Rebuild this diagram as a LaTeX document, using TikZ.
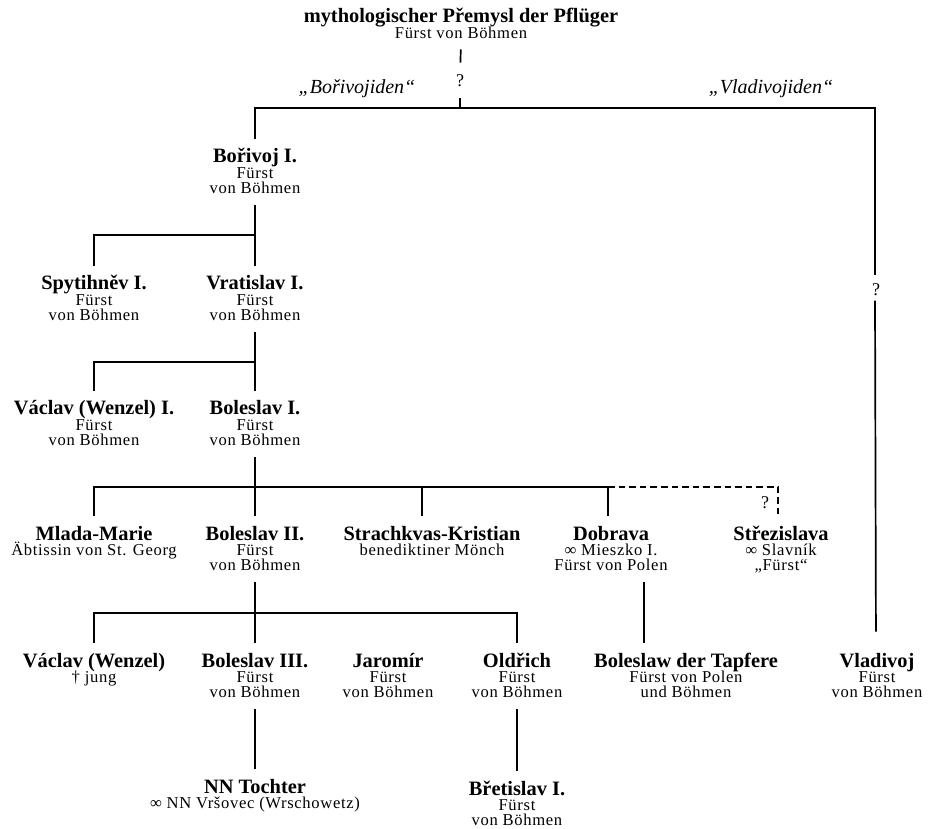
\documentclass[tikz,border=0pt]{standalone}
\usepackage{fontspec}
\setmainfont{Liberation Serif}
\newfontfamily\sperr{Liberation Serif}[LetterSpace=4]
\newcommand{\ahnen}[2]{\vtop{\lineskiplimit=-20pt\let\\\cr\halign{\hfil##\strut\hfil\cr\rule{0pt}{7.5pt}{\normalfont\bfseries\fontsize{10.2}{7.7}\selectfont #1}\cr #2\cr}}}
\begin{document}
\begin{tikzpicture}[x=0.5pt,y=-0.5pt,
		pers/.style={anchor=base,inner sep=0pt,font=\sperr\fontsize{8.3}{7.7}\selectfont},
		frage/.style={anchor=base,inner sep=0pt,font=\fontsize{9}{7.7}\selectfont},
		zweig/.style={anchor=base,inner sep=0pt,font=\fontsize{10}{10}\selectfont\itshape},
		link/.style={line width=0.85pt},
		ab/.style={shorten <=3pt},
		an/.style={shorten >=4.5pt}]
	\useasboundingbox (0,0) rectangle (928,829);
	\node [pers] (prem) at (461,23) {\ahnen{mythologischer Přemysl der Pflüger}{Fürst von Böhmen}};
	\node [frage] (q1) at (460,87) {?};
	\node [zweig] (bori) at (357,94) {„Bořivojiden“};
	\node [zweig] (vladi) at (771,94) {„Vladivojiden“};
	\node [pers] (bor) at (255,163) {\ahnen{Bořivoj I.}{Fürst\\von Böhmen}};
	\node [frage] (q2) at (876,296) {?};
	\node [pers] (spy) at (94,290) {\ahnen{Spytihněv I.}{Fürst\\von Böhmen}};
	\node [pers] (vra) at (255,290) {\ahnen{Vratislav I.}{Fürst\\von Böhmen}};
	\node [pers] (vac1) at (94,415) {\ahnen{Václav (Wenzel) I.}{Fürst\\von Böhmen}};
	\node [pers] (bol1) at (255,415) {\ahnen{Boleslav I.}{Fürst\\von Böhmen}};
	\node [pers] (mla) at (94,540) {\ahnen{Mlada-Marie}{Äbtissin von St. Georg}};
	\node [pers] (bol2) at (255,540) {\ahnen{Boleslav II.}{Fürst\\von Böhmen}};
	\node [pers] (stra) at (432,540) {\ahnen{Strachkvas-Kristian}{benediktiner Mönch}};
	\node [pers] (dob) at (611,540) {\ahnen{Dobrava}{∞ Mieszko I.\\Fürst von Polen}};
	\node [pers] (stre) at (781,540) {\ahnen{Střezislava}{∞ Slavník\\„Fürst“}};
	\node [frage] (q3) at (765,508) {?};
	\node [pers] (vac) at (94,667) {\ahnen{Václav (Wenzel)}{† jung}};
	\node [pers] (bol3) at (255,667) {\ahnen{Boleslav III.}{Fürst\\von Böhmen}};
	\node [pers] (jar) at (388,667) {\ahnen{Jaromír}{Fürst\\von Böhmen}};
	\node [pers] (old) at (517,667) {\ahnen{Oldřich}{Fürst\\von Böhmen}};
	\node [pers] (btap) at (686,667) {\ahnen{Boleslaw der Tapfere}{Fürst von Polen\\und Böhmen}};
	\node [pers] (vlad) at (877,667) {\ahnen{Vladivoj}{Fürst\\von Böhmen}};
	\node [pers] (nnt) at (255,793) {\ahnen{NN Tochter}{∞ NN Vršovec (Wrschowetz)}};
	\node [pers] (bret) at (517,795) {\ahnen{Břetislav I.}{Fürst\\von Böhmen}};
	% Stammvater
	\draw [link,ab,shorten >=6pt] (prem.south) -- (q1.north);
	\draw [link,shorten <=5pt] (q1.south) -- (q1.south |- 0,108);
	\draw [link,an,shorten <=4.5pt] (bor.north) -- (bor.north |- 0,108) -| ([xshift=-0.5pt]q2.north);
	\draw [link,shorten <=2pt,shorten >=10pt] ([xshift=-0.5pt]q2.south) -- ([xshift=-0.5pt]vlad.north);
	\draw [link,ab,an] (bor.south) -- (vra.north);
	\draw [link,an] (vra.north |- 0,235) -| (spy.north);
	\draw [link,ab,an] (vra.south) -- (bol1.north);
	\draw [link,an] (bol1.north |- 0,362) -| (vac1.north);
	\draw [link,ab,an] (bol1.south) -- (bol2.north);
	\draw [link,an] (bol2.north |- 0,487) -| (mla.north);
	\draw [link,an] (bol2.north |- 0,487) -| ([xshift=-5pt]stra.north);
	\draw [link,an] (bol2.north |- 0,487) -| ([xshift=-1.5pt]dob.north);
	\draw [link,an,dash pattern=on 3.3pt off 2pt] ([xshift=-1.5pt]dob.north |- 0,487) -| ([xshift=-1.5pt]stre.north);
	\draw [link,ab,an] ([xshift=16.5pt]dob.south) -- ([xshift=16.5pt]dob.south |- btap.north);
	\draw [link,ab,an] (bol2.south) -- (bol3.north);
	\draw [link,an] (bol3.north |- 0,613) -| (vac.north);
	\draw [link,an] (bol3.north |- 0,613) -| (old.north);
	\draw [link,ab,an] (bol3.south) -- (nnt.north);
	\draw [link,ab,an] (old.south) -- (bret.north);
\end{tikzpicture}
\end{document}
